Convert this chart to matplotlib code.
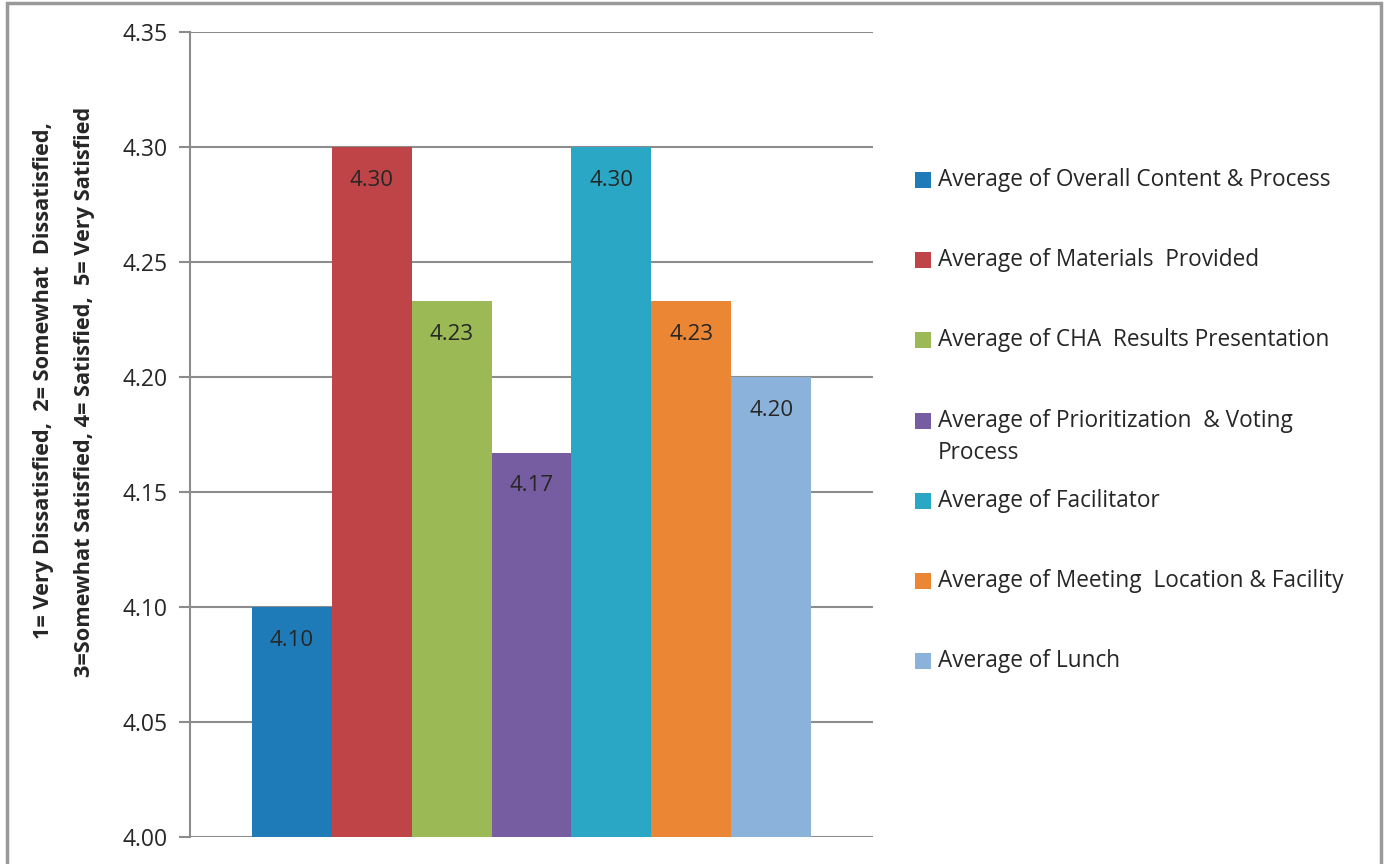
import matplotlib.pyplot as plt
from matplotlib.patches import Rectangle

# ===========================
# Data
# ===========================

series_names = [
    "Average of Overall Content & Process",
    "Average of Materials  Provided",
    "Average of CHA  Results Presentation",
    "Average of Prioritization  & Voting\nProcess",
    "Average of Facilitator",
    "Average of Meeting  Location & Facility",
    "Average of Lunch",
]
values = [4.10, 4.30, 4.233, 4.167, 4.30, 4.233, 4.20]
value_labels = ["4.10", "4.30", "4.23", "4.17", "4.30", "4.23", "4.20"]
colors = ["#1F7BB8", "#BE4448", "#9BB955", "#765CA0", "#2AA7C4", "#EB8634", "#8BB2DA"]
yticks = [4.00, 4.05, 4.10, 4.15, 4.20, 4.25, 4.30, 4.35]

ylabel_lines = [
    "1= Very Dissatisfied,  2= Somewhat  Dissatisfied,",
    "3=Somewhat Satisfied, 4= Satisfied,  5= Very Satisfied",
]

# ===========================
# Figure
# ===========================

plt.rcParams["font.family"] = ["Open Sans", "DejaVu Sans"]
text_color = "#262626"
grid_color = "#8C8C8C"

fig = plt.figure(figsize=(13.86, 8.64), dpi=100)
ax = fig.add_axes([190 / 1386, 1 - 837 / 864, (873 - 190) / 1386, (837 - 32) / 864])

positions = [i - 3 for i in range(len(values))]
bars = ax.bar(positions, [v - 4.0 for v in values], bottom=4.0, width=1.0,
              color=colors, zorder=3)

for bar, lab in zip(bars, value_labels):
    ax.annotate(lab, (bar.get_x() + bar.get_width() / 2, bar.get_y() + bar.get_height()),
                xytext=(0, -33), textcoords="offset pixels",
                ha="center", va="center", fontsize=16, color=text_color, zorder=4)

ax.set_xlim(-4.275, 4.275)
ax.set_ylim(4.00, 4.35)
ax.set_yticks(yticks)
ax.set_yticklabels([f"{t:.2f}" for t in yticks], fontsize=16.5, color=text_color)
ax.set_xticks([])
ax.yaxis.grid(True, color=grid_color, linewidth=1.5, zorder=0)
ax.tick_params(axis="y", length=8, width=1.5, color=grid_color, pad=8)

for side in ["top", "right", "bottom"]:
    ax.spines[side].set_visible(False)
ax.spines["left"].set_color(grid_color)
ax.spines["left"].set_linewidth(1.5)

# y-axis title (two centred lines, rotated)
fig.text(44 / 1386, 1 - 381 / 864, ylabel_lines[0], rotation=90, ha="center", va="center",
         fontsize=15.7, fontweight="bold", color=text_color)
fig.text(85 / 1386, 1 - 392 / 864, ylabel_lines[1], rotation=90, ha="center", va="center",
         fontsize=15.7, fontweight="bold", color=text_color)

# ===========================
# Legend
# ===========================

legend_y = [180, 260, 340, 421, 501, 581, 661]
for name, col, yp in zip(series_names, colors, legend_y):
    fig.patches.append(Rectangle((915 / 1386, 1 - (yp + 8) / 864), 16 / 1386, 16 / 864,
                                 transform=fig.transFigure, facecolor=col, edgecolor="none"))
    lines = name.split("\n")
    for k, line in enumerate(lines):
        fig.text(938 / 1386, 1 - (yp + 32 * k) / 864, line, ha="left", va="center",
                 fontsize=16.3, color=text_color)

# outer chart border
fig.patches.append(Rectangle((7 / 1386, -0.05), (1381 - 7) / 1386, 1.05 - 3 / 864,
                             transform=fig.transFigure, facecolor="none",
                             edgecolor="#999999", linewidth=2.5))

fig.savefig("out.png", dpi=100)
